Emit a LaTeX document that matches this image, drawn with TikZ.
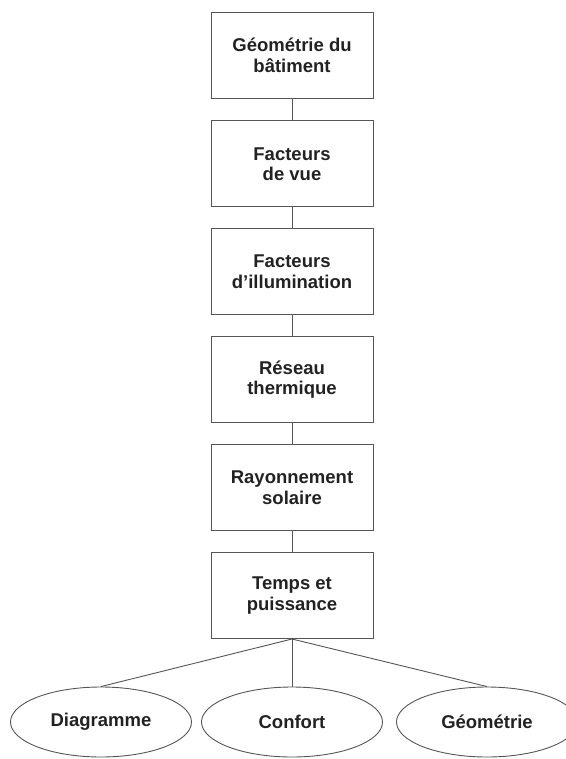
\documentclass[tikz,border=0pt]{standalone}
\usepackage{fontspec}
\setmainfont{Liberation Sans}
\usetikzlibrary{shapes.geometric}
\definecolor{linec}{HTML}{555555}
\definecolor{textc}{HTML}{222222}
\tikzset{
  stepbox/.style={draw=linec, line width=1pt, rectangle, minimum width=162pt, minimum height=86pt, inner sep=0pt, align=center, text=textc, font=\fontsize{18.5}{20.5}\selectfont\bfseries},
  outcome/.style={draw=linec, line width=0.9pt, ellipse, minimum width=181pt, minimum height=70pt, inner sep=0pt, text=textc, font=\fontsize{18.5}{20.5}\selectfont\bfseries},
  link/.style={draw=linec, line width=0.9pt}
}
\begin{document}
\begin{tikzpicture}[x=1pt,y=-1pt]
\useasboundingbox (0,0) rectangle (565,759);
\node[stepbox] (b1) at (292,55.5) {Géométrie du\\bâtiment};
\node[stepbox] (b2) at (292,164) {Facteurs\\de vue};
\node[stepbox] (b3) at (292,271.5) {Facteurs\\d’illumination};
\node[stepbox] (b4) at (292,379.5) {Réseau\\thermique};
\node[stepbox] (b5) at (292,487.5) {Rayonnement\\solaire};
\node[stepbox] (b6) at (292,595.5) {Temps et\\puissance};
\node[outcome] (e1) at (101,722) {Diagramme};
\node[outcome] (e2) at (292,722) {Confort};
\node[outcome] (e3) at (487,722) {Géométrie};
\draw[link] (b1) -- (b2);
\draw[link] (b2) -- (b3);
\draw[link] (b3) -- (b4);
\draw[link] (b4) -- (b5);
\draw[link] (b5) -- (b6);
\draw[link] (b6.south) -- (e1.north);
\draw[link] (b6.south) -- (e2.north);
\draw[link] (b6.south) -- (e3.north);
\end{tikzpicture}
\end{document}
